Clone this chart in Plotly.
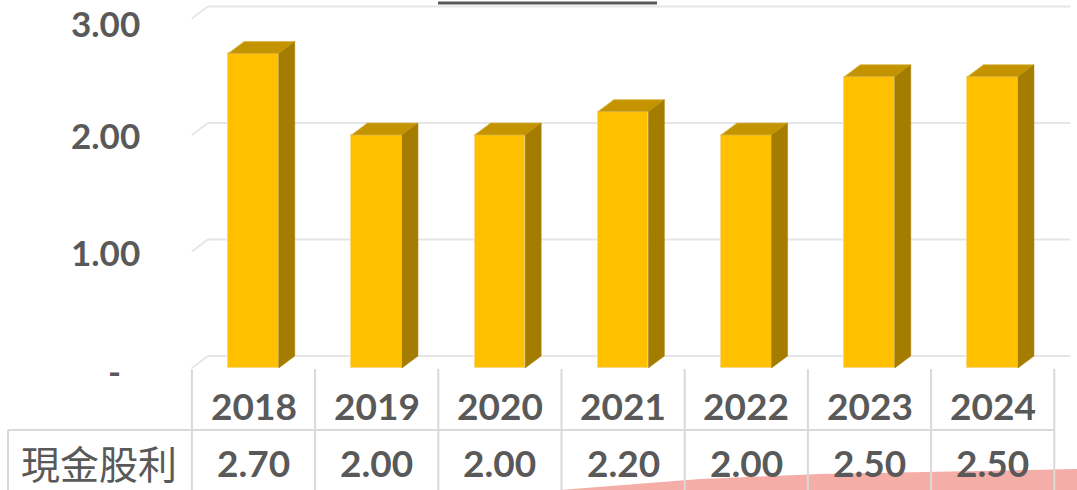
import plotly.graph_objects as go

# ---------------- data ----------------
years = ["2018", "2019", "2020", "2021", "2022", "2023", "2024"]
dividends = [2.70, 2.00, 2.00, 2.20, 2.00, 2.50, 2.50]
row_label = "現金股利"
y_tick_vals = [0, 1, 2, 3]
y_tick_text = ["-", "1.00", "2.00", "3.00"]

# ---------------- geometry / style ----------------
W, H = 1077, 490
L, R, T, B = 170, 0, 0, 122
PW, PH = W - L - R, H - T - B
CAT_PX = 123.2          # pixels per category
X0_PX = 253.5           # pixel centre of first category
UNIT_PX = 116.5         # pixels per 1.00
DX = 16 / CAT_PX        # 3D depth offset (data units)
DY = 12 / UNIT_PX
BW = 0.41               # bar width (category units)

FRONT = "#FFC000"
TOP = "#C49400"
SIDE = "#A47C00"
GRID = "#E6E6E6"
TXT = "#595959"
TABLE = "#D9D9D9"
NUMFONT = "Lato"


def xp(px):
    return (px - L) / PW


def yp(py):
    return (T + PH - py) / PH


n = len(years)
xs = list(range(n))

fig = go.Figure()

# front faces
fig.add_trace(go.Bar(
    x=xs, y=dividends, width=BW,
    marker=dict(color=FRONT, line=dict(color="#F6D982", width=1)),
    hoverinfo="skip",
))

# top and side faces (3D effect)
for x, v in zip(xs, dividends):
    x0, x1 = x - BW / 2, x + BW / 2
    fig.add_trace(go.Scatter(
        x=[x0, x1, x1 + DX, x0 + DX, x0],
        y=[v, v, v + DY, v + DY, v],
        fill="toself", fillcolor=TOP, mode="lines",
        line=dict(color="#D9B54A", width=0.8), hoverinfo="skip",
    ))
    fig.add_trace(go.Scatter(
        x=[x1, x1 + DX, x1 + DX, x1, x1],
        y=[0, DY, v + DY, v, 0],
        fill="toself", fillcolor=SIDE, mode="lines",
        line=dict(color=SIDE, width=0.5), hoverinfo="skip",
    ))

shapes = []

# decorative pink swoosh at the bottom right
pts = [(560, 490), (700, 479), (820, 474), (1077, 469), (1077, 490)]
path = "M " + " L ".join(f"{xp(a):.5f},{yp(b):.5f}" for a, b in pts) + " Z"
shapes.append(dict(type="path", xref="paper", yref="paper", path=path,
                   fillcolor="#F5ADA8", line=dict(width=0), layer="below"))

# 3D gridlines (side wall + back wall)
xl, xr = -0.5, n - 0.5
for v in y_tick_vals:
    shapes.append(dict(type="line", xref="x", yref="y", x0=xl, y0=v,
                       x1=xl + DX, y1=v + DY, line=dict(color=GRID, width=2),
                       layer="below"))
    shapes.append(dict(type="line", xref="x", yref="y", x0=xl + DX, y0=v + DY,
                       x1=xr + DX, y1=v + DY, line=dict(color=GRID, width=2),
                       layer="below"))

# data table lines
row_mid = 430
tab_top = 369
tab_bot = 492
for k in range(n + 1):
    xpix = X0_PX + (k - 0.5) * CAT_PX
    shapes.append(dict(type="line", xref="paper", yref="paper",
                       x0=xp(xpix), x1=xp(xpix), y0=yp(tab_top), y1=yp(tab_bot),
                       line=dict(color=TABLE, width=2)))
shapes.append(dict(type="line", xref="paper", yref="paper",
                   x0=xp(8), x1=xp(X0_PX + (n - 0.5) * CAT_PX),
                   y0=yp(row_mid), y1=yp(row_mid), line=dict(color=TABLE, width=2)))
shapes.append(dict(type="line", xref="paper", yref="paper",
                   x0=xp(8), x1=xp(8), y0=yp(row_mid), y1=yp(tab_bot),
                   line=dict(color=TABLE, width=2)))

# dark line at top
shapes.append(dict(type="line", xref="paper", yref="paper",
                   x0=xp(438), x1=xp(657), y0=yp(3), y1=yp(3),
                   line=dict(color=TXT, width=3)))

annotations = []
# y-axis labels
top_val = max(y_tick_vals)
for v, t in zip(y_tick_vals, y_tick_text):
    font = dict(family=NUMFONT, size=35, color=TXT, weight="bold")
    if t == "-":
        annotations.append(dict(x=xp(123), y=v, xref="paper", yref="y", text=t,
                                xanchor="right", yanchor="middle", showarrow=False,
                                yshift=-3, font=font))
    elif v == top_val:
        # keep the topmost label fully inside the page
        annotations.append(dict(x=xp(142), y=1, xref="paper", yref="paper", text=t,
                                xanchor="right", yanchor="top", showarrow=False,
                                font=font))
    else:
        annotations.append(dict(x=xp(142), y=v, xref="paper", yref="y", text=t,
                                xanchor="right", yanchor="middle", showarrow=False,
                                font=font))

# table text
for x, yr, v in zip(xs, years, dividends):
    annotations.append(dict(x=x, y=yp(405), xref="x", yref="paper", text=yr,
                            xanchor="center", yanchor="middle", showarrow=False,
                            font=dict(family=NUMFONT, size=37, color=TXT, weight="bold")))
    annotations.append(dict(x=x, y=yp(462), xref="x", yref="paper", text=f"{v:.2f}",
                            xanchor="center", yanchor="middle", showarrow=False,
                            font=dict(family=NUMFONT, size=37, color=TXT, weight="bold")))
annotations.append(dict(x=xp(99), y=yp(462), xref="paper", yref="paper", text=row_label,
                        xanchor="center", yanchor="middle", showarrow=False,
                        font=dict(family="Noto Sans CJK TC", size=39, color=TXT)))

fig.update_layout(
    width=W, height=H, autosize=False,
    margin=dict(l=L, r=R, t=T, b=B, pad=0),
    paper_bgcolor="white", plot_bgcolor="white",
    showlegend=False,
    xaxis=dict(range=[(L - X0_PX) / CAT_PX, (W - R - X0_PX) / CAT_PX],
               visible=False, fixedrange=True),
    yaxis=dict(range=[0, PH / UNIT_PX], visible=False, fixedrange=True),
    shapes=shapes,
    annotations=annotations,
    bargap=0,
)

fig.write_html("out.html", config={"displayModeBar": False},
               post_script="document.body.style.margin='0';")
